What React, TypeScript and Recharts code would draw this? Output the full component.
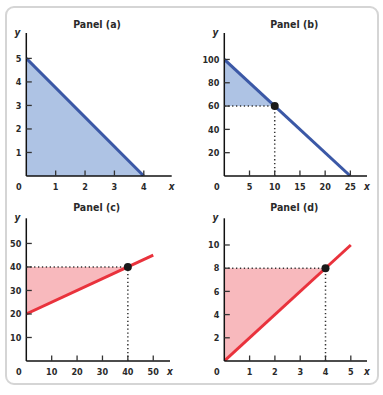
import { ComposedChart, Area, Line, XAxis, YAxis, ReferenceLine, ReferenceDot } from 'recharts';

const FONT = '"DejaVu Sans Condensed", "DejaVu Sans", sans-serif';
const BLUE_LINE = '#3b58a6';
const BLUE_FILL = '#aec3e4';
const RED_LINE = '#e9323c';
const RED_FILL = '#f8b9bd';

// Panel (a)
const aLineX = [0, 4];
const aLineY = [5, 0];
const aXTicks = [1, 2, 3, 4];
const aYTicks = [1, 2, 3, 4, 5];

// Panel (b)
const bLineX = [0, 25];
const bLineY = [100, 0];
const bShadeX = [0, 10];
const bShadeLow = [60, 60];
const bShadeHigh = [100, 60];
const bPoint = [10, 60];
const bXTicks = [5, 10, 15, 20, 25];
const bYTicks = [20, 40, 60, 80, 100];

// Panel (c)
const cLineX = [0, 50];
const cLineY = [20, 45];
const cShadeX = [0, 40];
const cShadeLow = [20, 40];
const cShadeHigh = [40, 40];
const cPoint = [40, 40];
const cXTicks = [10, 20, 30, 40, 50];
const cYTicks = [10, 20, 30, 40, 50];

// Panel (d)
const dLineX = [0, 5];
const dLineY = [0, 10];
const dShadeX = [0, 4];
const dShadeLow = [0, 8];
const dShadeHigh = [8, 8];
const dPoint = [4, 8];
const dXTicks = [1, 2, 3, 4, 5];
const dYTicks = [2, 4, 6, 8, 10];

const toRows = (xs: number[], ys: number[]) => xs.map((x, i) => ({ x, y: ys[i] }));
const toRange = (xs: number[], lo: number[], hi: number[]) => xs.map((x, i) => ({ x, r: [lo[i], hi[i]] }));

const makeXTick = (xMax: number) => (props: any) => {
  const { x, y, payload } = props;
  const v = payload.value;
  if (v === 0) {
    return <text x={x - 7.5} y={y + 13.5} textAnchor="middle" fontFamily={FONT} fontWeight="bold" fontSize={9} fill="#2a2a2a">0</text>;
  }
  if (v === xMax) {
    return <text x={x} y={y + 13.5} textAnchor="middle" fontFamily={FONT} fontWeight="bold" fontStyle="italic" fontSize={10} fill="#2a2a2a">x</text>;
  }
  return (
    <g>
      <line x1={x} y1={y} x2={x} y2={y - 5.5} stroke="#333" strokeWidth={1.3} />
      <text x={x} y={y + 13.5} textAnchor="middle" fontFamily={FONT} fontWeight="bold" fontSize={9} fill="#2a2a2a">{v}</text>
    </g>
  );
};

const makeYTick = (yMax: number) => (props: any) => {
  const { x, y, payload } = props;
  const v = payload.value;
  if (v === yMax) {
    return <text x={x - 6} y={y + 2.5} textAnchor="end" fontFamily={FONT} fontWeight="bold" fontStyle="italic" fontSize={10} fill="#2a2a2a">y</text>;
  }
  return (
    <g>
      <line x1={x} y1={y} x2={x + 5.5} y2={y} stroke="#333" strokeWidth={1.3} />
      <text x={x - 5} y={y + 3.3} textAnchor="end" fontFamily={FONT} fontWeight="bold" fontSize={9} fill="#2a2a2a">{v}</text>
    </g>
  );
};

type PanelProps = {
  title: string;
  left: number;
  top: number;
  margin: { top: number; right: number; bottom: number; left: number };
  xMax: number;
  yMax: number;
  xTicks: number[];
  yTicks: number[];
  titleX: number;
  titleY: number;
  children: any;
};

function Panel({ title, left, top, margin, xMax, yMax, xTicks, yTicks, titleX, titleY, children }: PanelProps) {
  // axes get 1px of room, so take it back out of the margins
  const m = { ...margin, left: margin.left - 1, bottom: margin.bottom - 1 };
  return (
    <div style={{ position: 'absolute', left, top, width: 191, height: 195 }}>
      <div
        style={{
          position: 'absolute', left: titleX - 40, top: titleY - 7, width: 80, textAlign: 'center',
          fontFamily: FONT, fontWeight: 'bold', fontSize: 10.5, lineHeight: '14px', color: '#2a2a2a',
        }}
      >
        {title}
      </div>
      <ComposedChart width={191} height={195} margin={m}>
        {children}
        <XAxis
          dataKey="x" type="number" domain={[0, xMax]} ticks={[0, ...xTicks, xMax]} interval={0}
          height={1} tickSize={0} tickMargin={0} tickLine={false}
          axisLine={{ stroke: '#111', strokeWidth: 1.5 }} tick={makeXTick(xMax)} allowDataOverflow
        />
        <YAxis
          type="number" domain={[0, yMax]} ticks={[...yTicks, yMax]} interval={0}
          width={1} tickSize={0} tickMargin={0} tickLine={false}
          axisLine={{ stroke: '#111', strokeWidth: 1.5 }} tick={makeYTick(yMax)} allowDataOverflow
        />
      </ComposedChart>
    </div>
  );
}

const dotted = { stroke: '#333', strokeWidth: 1.5, strokeDasharray: '1.3 2.6' };

export default function App() {
  return (
    <div style={{ position: 'absolute', left: 0, top: 0, width: 383, height: 395, background: '#fff' }}>
      <div
        style={{
          position: 'absolute', left: 5, top: 6, width: 374, height: 379, boxSizing: 'border-box',
          border: '2px solid #d5d5d5', borderRadius: 9,
        }}
      />
      <Panel title="Panel (a)" left={0} top={0} titleX={97} titleY={24}
        margin={{ top: 33, right: 19.3, bottom: 19, left: 26.3 }} xMax={4.95} yMax={6.08} xTicks={aXTicks} yTicks={aYTicks}>
        <Area data={toRows(aLineX, aLineY)} dataKey="y" type="linear" fill={BLUE_FILL} fillOpacity={1} stroke={BLUE_LINE} strokeWidth={3} isAnimationActive={false} />
      </Panel>
      <Panel title="Panel (b)" left={191} top={0} titleX={103.3} titleY={24}
        margin={{ top: 33, right: 15, bottom: 19, left: 33.3 }} xMax={28.3} yMax={122.7} xTicks={bXTicks} yTicks={bYTicks}>
        <Area data={toRange(bShadeX, bShadeLow, bShadeHigh)} dataKey="r" type="linear" fill={BLUE_FILL} fillOpacity={1} stroke="none" isAnimationActive={false} />
        <ReferenceLine segment={[{ x: 0, y: bPoint[1] }, { x: bPoint[0], y: bPoint[1] }]} {...dotted} />
        <ReferenceLine segment={[{ x: bPoint[0], y: 0 }, { x: bPoint[0], y: bPoint[1] }]} {...dotted} />
        <Line data={toRows(bLineX, bLineY)} dataKey="y" type="linear" stroke={BLUE_LINE} strokeWidth={3} dot={false} isAnimationActive={false} />
        <ReferenceDot x={bPoint[0]} y={bPoint[1]} r={4} fill="#1a1a1a" stroke="none" />
      </Panel>
      <Panel title="Panel (c)" left={0} top={195} titleX={96.7} titleY={11.7}
        margin={{ top: 23.3, right: 21, bottom: 29, left: 26.3 }} xMax={56.6} yMax={60.7} xTicks={cXTicks} yTicks={cYTicks}>
        <Area data={toRange(cShadeX, cShadeLow, cShadeHigh)} dataKey="r" type="linear" fill={RED_FILL} fillOpacity={1} stroke="none" isAnimationActive={false} />
        <ReferenceLine segment={[{ x: 0, y: cPoint[1] }, { x: cPoint[0], y: cPoint[1] }]} {...dotted} />
        <ReferenceLine segment={[{ x: cPoint[0], y: 0 }, { x: cPoint[0], y: cPoint[1] }]} {...dotted} />
        <Line data={toRows(cLineX, cLineY)} dataKey="y" type="linear" stroke={RED_LINE} strokeWidth={3} dot={false} isAnimationActive={false} />
        <ReferenceDot x={cPoint[0]} y={cPoint[1]} r={4} fill="#1a1a1a" stroke="none" />
      </Panel>
      <Panel title="Panel (d)" left={191} top={195} titleX={103.3} titleY={11.7}
        margin={{ top: 23.3, right: 15, bottom: 29, left: 33.3 }} xMax={5.64} yMax={12.3} xTicks={dXTicks} yTicks={dYTicks}>
        <Area data={toRange(dShadeX, dShadeLow, dShadeHigh)} dataKey="r" type="linear" fill={RED_FILL} fillOpacity={1} stroke="none" isAnimationActive={false} />
        <ReferenceLine segment={[{ x: 0, y: dPoint[1] }, { x: dPoint[0], y: dPoint[1] }]} {...dotted} />
        <ReferenceLine segment={[{ x: dPoint[0], y: 0 }, { x: dPoint[0], y: dPoint[1] }]} {...dotted} />
        <Line data={toRows(dLineX, dLineY)} dataKey="y" type="linear" stroke={RED_LINE} strokeWidth={3} dot={false} isAnimationActive={false} />
        <ReferenceDot x={dPoint[0]} y={dPoint[1]} r={4} fill="#1a1a1a" stroke="none" />
      </Panel>
    </div>
  );
}
